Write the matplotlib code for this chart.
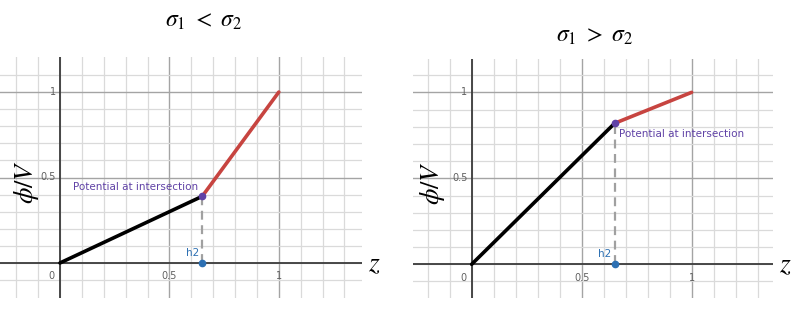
import numpy as np
import matplotlib.pyplot as plt

plt.rcParams["mathtext.fontset"] = "stix"

# two cases, same intersection height h2
h2 = 0.65
phi_at_h2 = [0.39, 0.82]          # left: sigma1 < sigma2, right: sigma1 > sigma2
titles = [r"$\sigma_1\ <\ \sigma_2$", r"$\sigma_1\ >\ \sigma_2$"]
tick_vals = [0.5, 1]
point_label = "Potential at intersection"

RED = "#c74440"
BLUE = "#2d70b3"
PURPLE = "#6042a6"

W, H = 800, 310
fig = plt.figure(figsize=(W / 100, H / 100), dpi=100)

# axes boxes in pixels (left, top, right, bottom) and data limits
boxes = [(0, 57, 362, 298), (412.7, 59, 773, 298)]
lims = [((-0.274, 1.38), (-0.205, 1.205)), ((-0.268, 1.37), (-0.196, 1.194))]
title_pos = [(204, 20), (595, 35)]
ylabel_off = [19, 14]


def draw_panel(ax, phi_h, label_side):
    ax.set_xlim(*lims_x)
    ax.set_ylim(*lims_y)
    for s in ax.spines.values():
        s.set_visible(False)
    ax.set_xticks(np.arange(-0.2, 1.31, 0.1), minor=True)
    ax.set_yticks(np.arange(-0.1, 1.11, 0.1), minor=True)
    ax.set_xticks(tick_vals)
    ax.set_yticks(tick_vals)
    ax.tick_params(which="both", length=0, labelbottom=False, labelleft=False)
    ax.grid(which="minor", color="#dadada", lw=0.9, zorder=0)
    ax.grid(which="major", color="#a4a4a4", lw=1.0, zorder=0)
    ax.set_axisbelow(True)
    ax.axhline(0, color="#3a3a3a", lw=1.3, zorder=1)
    ax.axvline(0, color="#3a3a3a", lw=1.3, zorder=1)

    # tick labels drawn near the axes lines
    for v in tick_vals:
        ax.annotate(f"{v:g}", (v, 0), xytext=(0, -6), textcoords="offset points",
                    ha="center", va="top", fontsize=7, color="#606060")
        ax.annotate(f"{v:g}", (0, v), xytext=(-3, 0), textcoords="offset points",
                    ha="right", va="center", fontsize=7, color="#606060")
    ax.annotate("0", (0, 0), xytext=(-4, -6), textcoords="offset points",
                ha="right", va="top", fontsize=7, color="#606060")

    # potential segments
    ax.plot([0, h2], [0, phi_h], color="black", lw=2.6, solid_capstyle="round", zorder=3)
    ax.plot([h2, 1], [phi_h, 1], color=RED, lw=2.6, solid_capstyle="round", zorder=3)
    ax.plot([h2, h2], [0, phi_h], color="#a0a0a0", lw=1.6, ls=(0, (4, 2.5)), zorder=2)
    ax.plot([h2], [phi_h], "o", color=PURPLE, ms=4.5, zorder=4)
    ax.plot([h2], [0], "o", color=BLUE, ms=4.5, zorder=4)

    if label_side == "left":
        ax.annotate(point_label, (h2, phi_h), xytext=(-3, 7), textcoords="offset points",
                    ha="right", va="center", fontsize=7.5, color=PURPLE)
    else:
        ax.annotate(point_label, (h2, phi_h), xytext=(3, -7.5), textcoords="offset points",
                    ha="left", va="center", fontsize=7.5, color=PURPLE)
    ax.annotate("h2", (h2, 0), xytext=(-7, 7.5), textcoords="offset points",
                ha="center", va="center", fontsize=7.5, color=BLUE)

    ax.annotate(r"$z$", (lims_x[1], 0), xytext=(4, 0), textcoords="offset points",
                ha="left", va="center", fontsize=20, annotation_clip=False)


for i, phi_h in enumerate(phi_at_h2):
    l, t, r, b = boxes[i]
    ax = fig.add_axes([l / W, (H - b) / H, (r - l) / W, (b - t) / H])
    lims_x, lims_y = lims[i]
    draw_panel(ax, phi_h, "left" if i == 0 else "right")
    ax.annotate(r"$\phi/V$", (0, 0.5), xycoords="axes fraction", xytext=(ylabel_off[i], -3),
                textcoords="offset points", rotation=90, ha="center", va="center",
                fontsize=19, annotation_clip=False)
    fig.text(title_pos[i][0] / W, 1 - title_pos[i][1] / H, titles[i],
             ha="center", va="center", fontsize=17)

fig.savefig("out.png", dpi=100)
